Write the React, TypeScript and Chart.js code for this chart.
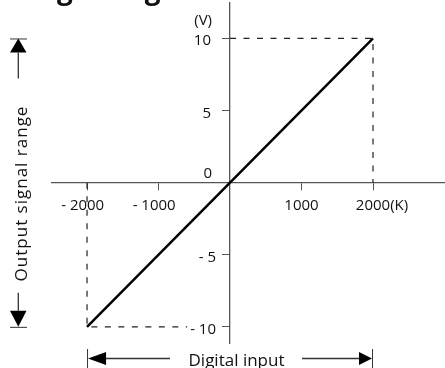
import { useEffect, useRef } from "react";
import { Chart, registerables } from "chart.js";

Chart.register(...registerables);

// ---- data ----
const lineX = [-2000, 2000];
const lineY = [-10, 10];
const upperGuideX = [0, 2000, 2000];
const upperGuideY = [10, 10, 0];
const lowerGuideX = [-2000, -2000, -600];
const lowerGuideY = [0, -10, -10];
const xTickValues = [-2000, -1000, 1000, 2000];
const xTickLabels = ["-2000", "-1000", "1000", "2000"];
const yTickValues = [10, 5, -5, -10];
const yTickLabels = ["10", "5", "-5", "-10"];
const xUnit = "(K)";
const yUnit = "(V)";
const originLabel = "0";
const xAxisTitle = "Digital input";
const yAxisTitle = "Output signal range";
const titleText = "Voltage range";
const xRange = [-2490, 3007];
const yRange = [-11.12, 12.46];

const FONT = "'Open Sans', 'Noto Sans', sans-serif";
const AXIS_COLOR = "#555";
const TEXT_COLOR = "#111";

function tri(ctx: CanvasRenderingContext2D, pts: number[][]) {
  ctx.beginPath();
  ctx.moveTo(pts[0][0], pts[0][1]);
  ctx.lineTo(pts[1][0], pts[1][1]);
  ctx.lineTo(pts[2][0], pts[2][1]);
  ctx.closePath();
  ctx.fill();
}
function seg(ctx: CanvasRenderingContext2D, x1: number, y1: number, x2: number, y2: number) {
  ctx.beginPath();
  ctx.moveTo(x1, y1);
  ctx.lineTo(x2, y2);
  ctx.stroke();
}

const labelsPlugin = {
  id: "labelsPlugin",
  afterDraw(chart: any) {
    const ctx: CanvasRenderingContext2D = chart.ctx;
    const xs = chart.scales.x;
    const ys = chart.scales.y;
    const x0 = xs.getPixelForValue(0);
    const y0 = ys.getPixelForValue(0);
    ctx.save();
    ctx.fillStyle = TEXT_COLOR;
    ctx.font = `15px ${FONT}`;
    ctx.textBaseline = "alphabetic";

    // x tick labels
    xTickValues.forEach((v, i) => {
      const px = xs.getPixelForValue(v);
      const lab = xTickLabels[i];
      const neg = lab.startsWith("-");
      const num = neg ? lab.slice(1) : lab;
      const w = ctx.measureText(num).width;
      const by = y0 + 27;
      ctx.textAlign = "center";
      ctx.fillText(num, px, by);
      if (neg) {
        ctx.textAlign = "right";
        ctx.fillText("- ", px - w / 2, by);
      }
      if (i === xTickValues.length - 1) {
        ctx.textAlign = "left";
        ctx.fillText(xUnit, px + w / 2, by);
      }
    });

    // y tick labels
    yTickValues.forEach((v, i) => {
      const py = ys.getPixelForValue(v);
      const lab = yTickLabels[i];
      const neg = lab.startsWith("-");
      const num = neg ? lab.slice(1) : lab;
      const right = neg ? x0 - 14 : x0 - 19;
      const w = ctx.measureText(num).width;
      ctx.textAlign = "right";
      ctx.fillText(num, right, py + 7);
      if (neg) ctx.fillText("- ", right - w, py + 7);
      if (i === 0) ctx.fillText(yUnit, x0 - 18, py - 13);
    });

    // origin
    ctx.textAlign = "right";
    ctx.fillText(originLabel, x0 - 18, y0 - 4.5);

    // left range annotation
    const yt = ys.getPixelForValue(10);
    const yb = ys.getPixelForValue(-10);
    const cx = 18.3;
    ctx.strokeStyle = "#333";
    ctx.lineWidth = 1;
    seg(ctx, 10, yt + 0.5, 27, yt + 0.5);
    seg(ctx, 10, yb + 0.5, 27, yb + 0.5);
    ctx.fillStyle = "#000";
    tri(ctx, [[cx, yt], [10, yt + 14], [26.5, yt + 14]]);
    tri(ctx, [[cx, yb], [10, yb - 16], [26.5, yb - 16]]);
    ctx.lineWidth = 1.3;
    seg(ctx, cx, yt + 14, cx, yt + 40);
    seg(ctx, cx, yb - 16, cx, yb - 34);
    ctx.fillStyle = TEXT_COLOR;
    ctx.save();
    ctx.translate(27, 193.5);
    ctx.rotate(-Math.PI / 2);
    ctx.font = `17px ${FONT}`;
    (ctx as any).letterSpacing = "1px";
    ctx.textAlign = "center";
    ctx.fillText(yAxisTitle, 0, 0);
    ctx.restore();

    // bottom range annotation
    const xl = xs.getPixelForValue(-2000);
    const xr = xs.getPixelForValue(2000);
    const cy = 358.5;
    ctx.strokeStyle = "#333";
    ctx.lineWidth = 1;
    seg(ctx, xl + 0.5, 349, xl + 0.5, 368);
    seg(ctx, xr - 0.5, 349, xr - 0.5, 368);
    ctx.fillStyle = "#000";
    tri(ctx, [[xl + 1, cy], [xl + 19, cy - 6.5], [xl + 19, cy + 6.5]]);
    tri(ctx, [[xr - 1, cy], [xr - 14, cy - 6.5], [xr - 14, cy + 6.5]]);
    ctx.lineWidth = 1.3;
    seg(ctx, xl + 19, cy, 170, cy);
    seg(ctx, 302, cy, xr - 14, cy);
    ctx.fillStyle = TEXT_COLOR;
    ctx.font = `17px ${FONT}`;
    ctx.textAlign = "center";
    ctx.fillText(xAxisTitle, 236.5, 366);

    // cropped heading
    ctx.font = `bold 28px ${FONT}`;
    ctx.textAlign = "left";
    const pre = ctx.measureText("Volta").width;
    ctx.fillText(titleText, 57 - pre, -1.5);
    ctx.restore();
  },
};

export default function App() {
  const ref = useRef<HTMLCanvasElement | null>(null);
  useEffect(() => {
    if (!ref.current) return;
    const pts = (xs: number[], ys: number[]) => xs.map((x, i) => ({ x, y: ys[i] }));
    const chart = new Chart(ref.current, {
      type: "scatter",
      data: {
        datasets: [
          {
            data: pts(lineX, lineY),
            showLine: true,
            borderColor: "#000",
            borderWidth: 2.5,
            pointRadius: 0,
          },
          {
            data: pts(upperGuideX, upperGuideY),
            showLine: true,
            borderColor: "#222",
            borderWidth: 1.2,
            borderDash: [6, 7.5],
            pointRadius: 0,
          },
          {
            data: pts(lowerGuideX, lowerGuideY),
            showLine: true,
            borderColor: "#222",
            borderWidth: 1.2,
            borderDash: [6, 7.5],
            pointRadius: 0,
          },
        ],
      },
      options: {
        animation: false,
        responsive: false,
        devicePixelRatio: 1,
        layout: { padding: { left: 52, right: 0, top: 3, bottom: 25 } },
        plugins: { legend: { display: false }, tooltip: { enabled: false }, title: { display: false } },
        scales: {
          x: {
            type: "linear",
            min: xRange[0],
            max: xRange[1],
            position: { y: 0 } as any,
            afterFit: (s: any) => { s.height = 0; s.paddingLeft = 0; s.paddingRight = 0; },
            afterBuildTicks: (s: any) => { s.ticks = xTickValues.map((v) => ({ value: v })); },
            grid: { drawOnChartArea: false, drawTicks: true, tickLength: 7, color: AXIS_COLOR, lineWidth: 1 },
            border: { display: true, color: AXIS_COLOR, width: 1.3 },
            ticks: { display: false, autoSkip: false, maxRotation: 0 },
          },
          y: {
            type: "linear",
            min: yRange[0],
            max: yRange[1],
            position: { x: 0 } as any,
            afterFit: (s: any) => { s.width = 0; s.paddingTop = 0; s.paddingBottom = 0; },
            afterBuildTicks: (s: any) => { s.ticks = yTickValues.map((v) => ({ value: v })); },
            grid: { drawOnChartArea: false, drawTicks: true, tickLength: 7, color: AXIS_COLOR, lineWidth: 1 },
            border: { display: true, color: AXIS_COLOR, width: 1.3 },
            ticks: { display: false, autoSkip: false },
          },
        },
      },
      plugins: [labelsPlugin],
    });
    return () => chart.destroy();
  }, []);
  return (
    <div style={{ position: "absolute", left: 0, top: 0, width: 445, height: 368, background: "#fff" }}>
      <canvas ref={ref} width={445} height={368} style={{ display: "block", width: 445, height: 368 }} />
    </div>
  );
}
